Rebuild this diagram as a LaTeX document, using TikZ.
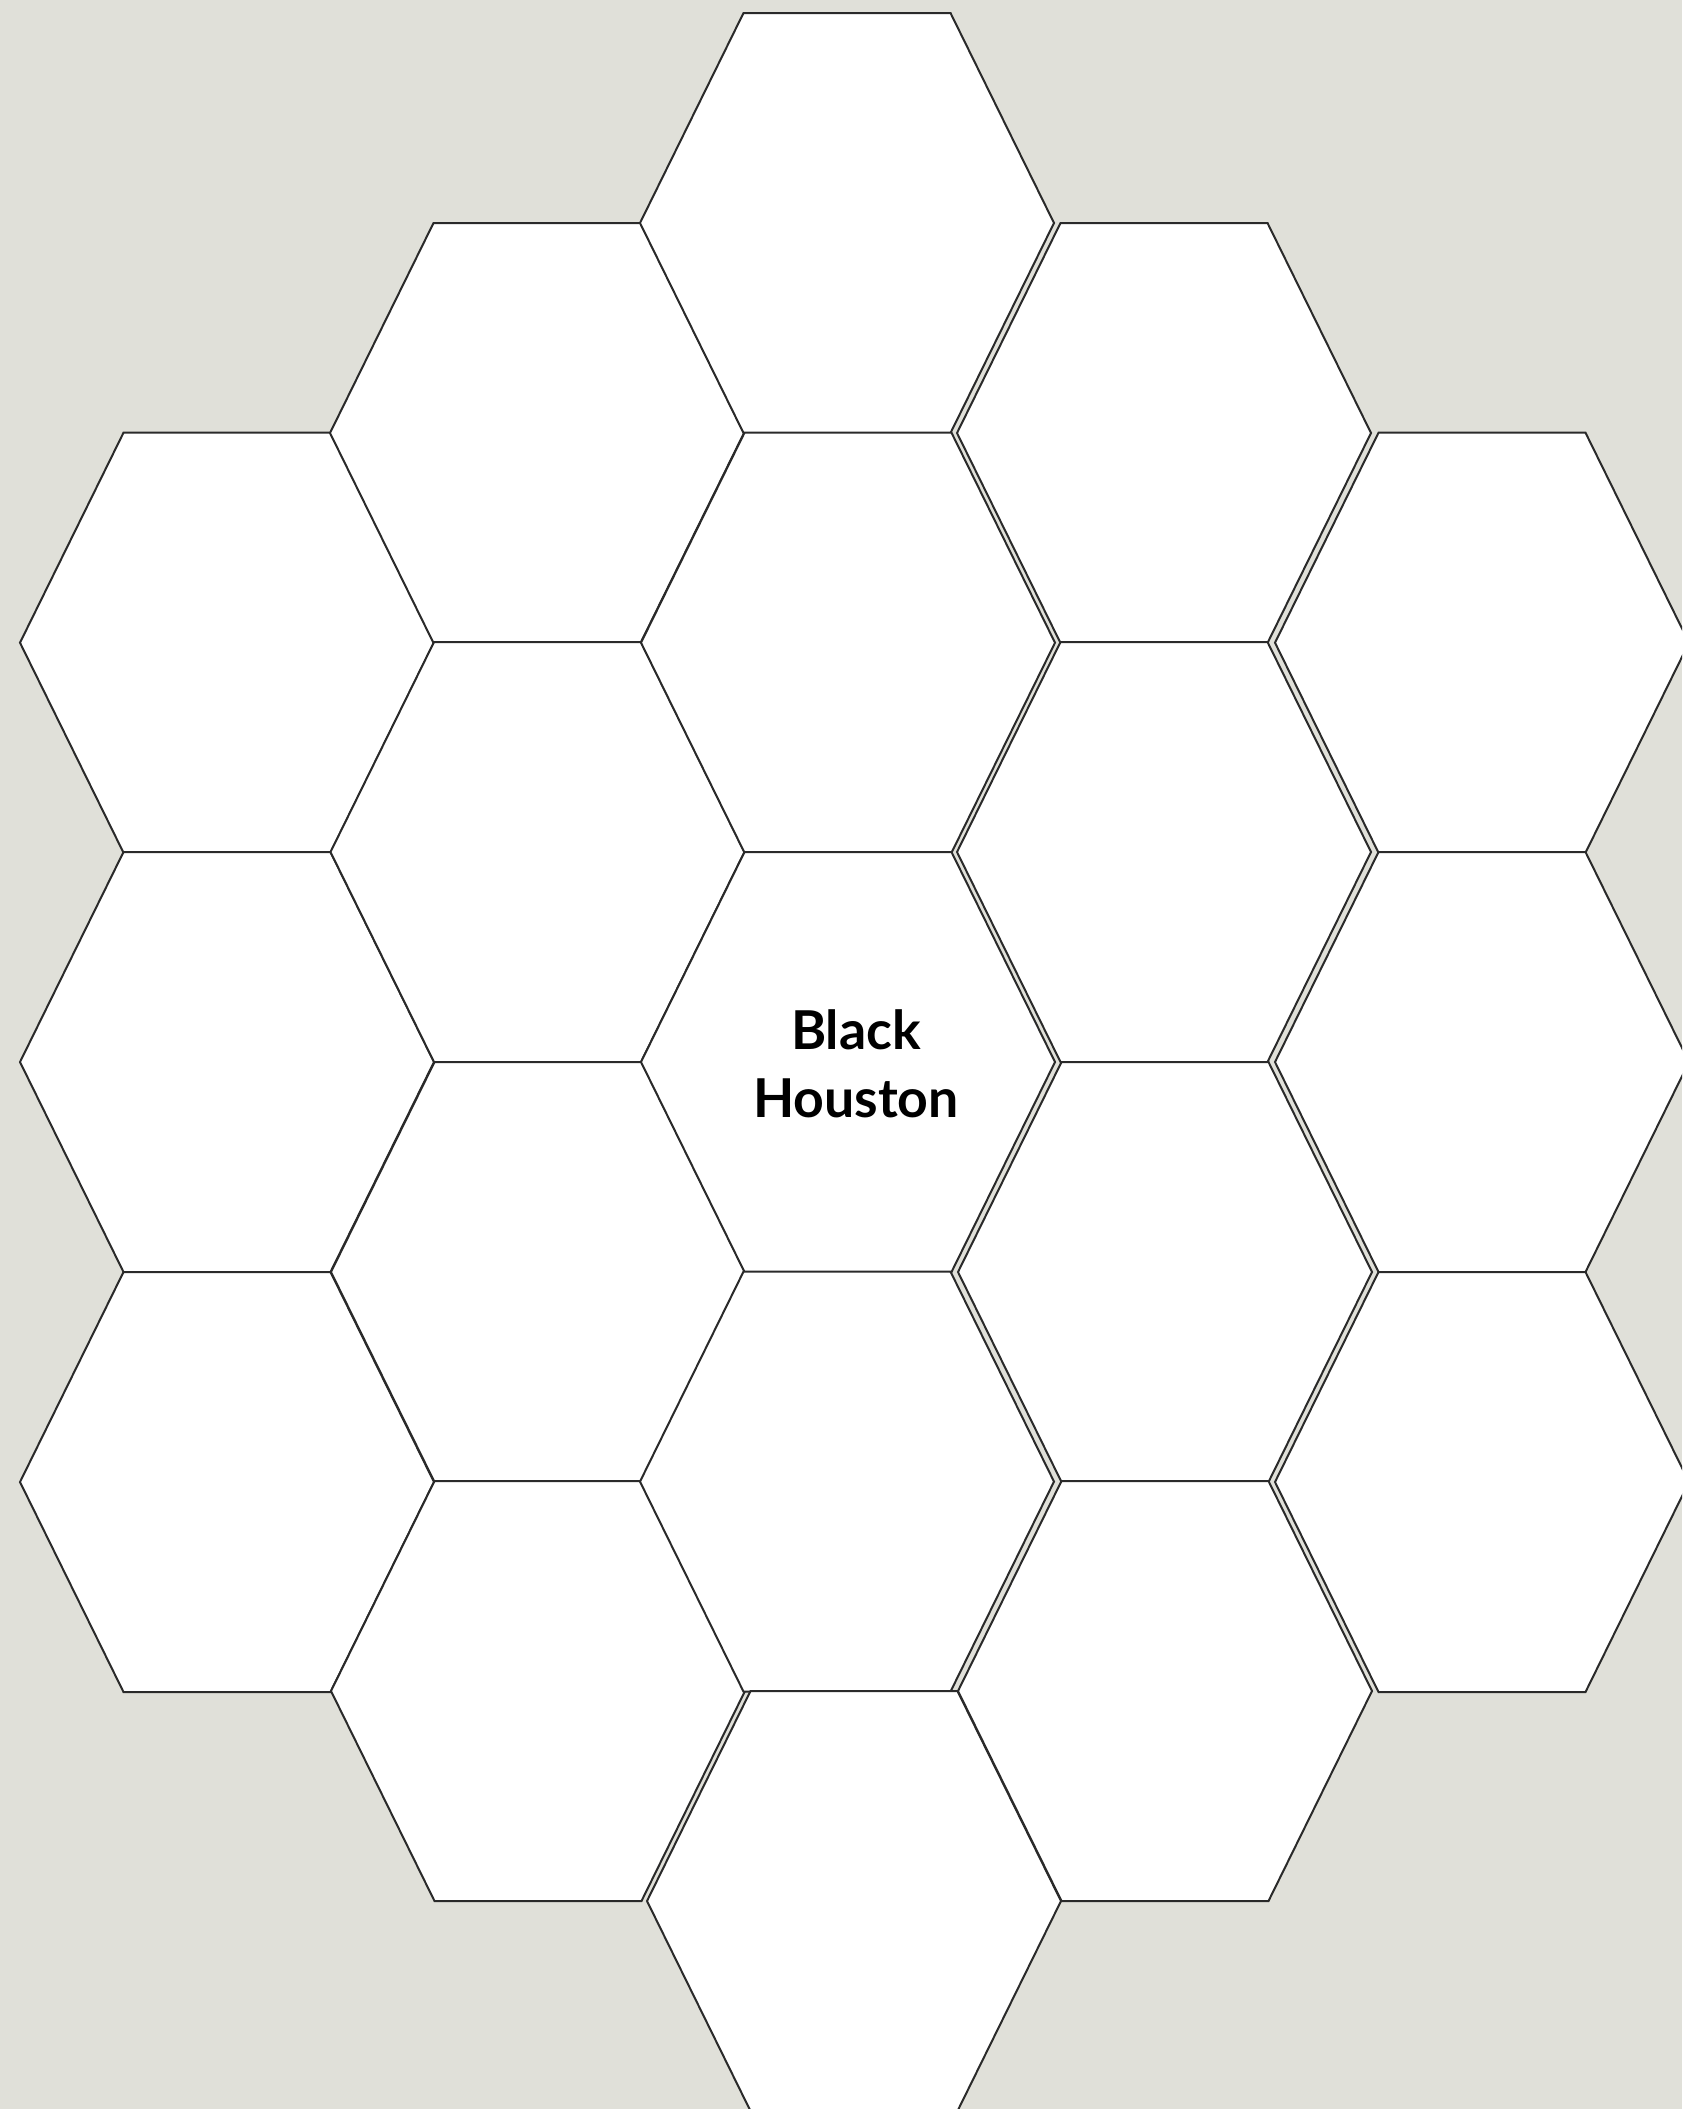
\documentclass[tikz,border=0pt]{standalone}
\usepackage{fontspec}
\setmainfont{Lato}

\definecolor{paper}{HTML}{E0E0D9}
\definecolor{edge}{HTML}{2A2A2A}

\tikzset{
	hexcell/.style={fill=white, draw=edge, line width=0.5pt, line join=miter},
	hexlabel/.style={font=\bfseries\fontsize{13.4}{17}\selectfont, align=center, text=black, inner sep=0pt},
}

\begin{document}
\begin{tikzpicture}[x=0.25pt, y=-0.25pt, line join=round, line cap=round]
	
	% ==========================================
	% Nền (khung trang)
	% ==========================================
	\fill[paper] (0,0) rectangle (1682,2109);
	\useasboundingbox (0,0) rectangle (1682,2109);
	\clip (0,0) rectangle (1682,2109);
	
	% ==========================================
	% Lưới lục giác (5 cột: 3-4-5-4-3)
	% ==========================================
	\foreach \i/\x/\y in {
		1/227/642.7, 2/227/1062, 3/227/1482,
		4/537/433, 5/537.5/852, 6/538/1272, 7/538/1691,
		8/847/223, 9/848/642.7, 10/848/1062, 11/847/1481.6, 12/854/1901,
		13/1164/433, 14/1164/852, 15/1165/1272, 16/1165/1691,
		17/1482/642.7, 18/1482/1062, 19/1482/1482} {
		\coordinate (H\i) at (\x,\y);
		\draw[hexcell] (\x-207,\y) -- (\x-103.5,\y-210) -- (\x+103.5,\y-210)
		-- (\x+207,\y) -- (\x+103.5,\y+210) -- (\x-103.5,\y+210) -- cycle;
	}
	
	% Ô trung tâm
	\node[hexlabel] (center) at (856,1064) {Black\\Houston};
	
\end{tikzpicture}
\end{document}
